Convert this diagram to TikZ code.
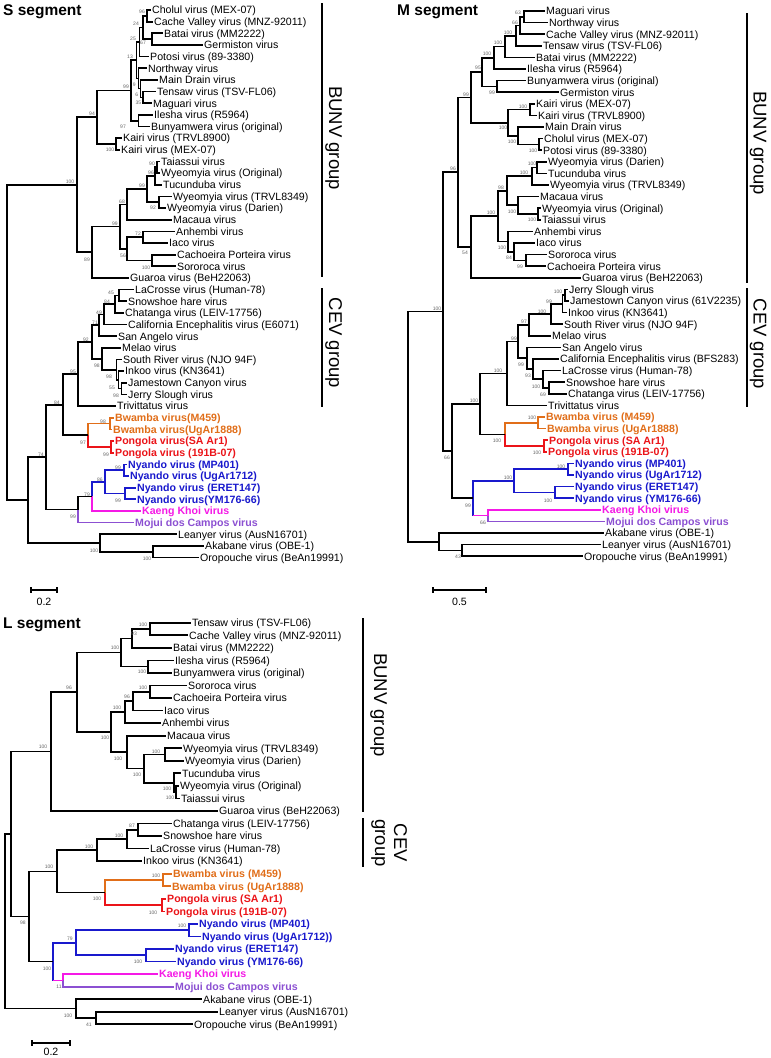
\documentclass[tikz,border=0pt]{standalone}
\usepackage{fontspec}
\setmainfont{Liberation Sans}
\usetikzlibrary{calc}
\definecolor{bworange}{RGB}{225,110,25}
\definecolor{pgred}{RGB}{235,20,25}
\definecolor{nyblue}{RGB}{25,25,205}
\definecolor{kkmag}{RGB}{245,25,230}
\definecolor{mjpurple}{RGB}{140,80,210}
\tikzset{
  leaf/.style={anchor=west,inner sep=0pt,inner xsep=1.5pt,text height=7.6pt,text depth=0pt,font=\fontsize{10.6}{12}\selectfont},
  bleaf/.style={font=\fontsize{10.6}{12}\selectfont\bfseries},
  bs/.style={inner sep=0pt,font=\fontsize{5}{6}\selectfont,text=black!60},
  brn/.style={line width=1.7pt},
  brk/.style={line width=1.2pt},
  ttl/.style={anchor=west,inner sep=0pt,text height=11pt,text depth=0pt,font=\fontsize{15.5}{18}\selectfont\bfseries},
  grp/.style={inner sep=0pt,rotate=-90,anchor=south,align=center,font=\fontsize{18.5}{19}\selectfont},
  sclab/.style={inner sep=0pt,font=\fontsize{10.6}{12}\selectfont}
}
\newcommand\lf[5][]{\node[leaf,#1] (#2) at (#3,{#4}) {#5};}
\newcommand\inode[4]{\path let \p1=(#3), \p2=(#4) in coordinate (#1) at (#2pt,{0.5*\y1+0.5*\y2});}
\newcommand\nd[5][black]{\inode{#2}{#3}{#4}{#5}\draw[brn,#1] (#2) |- (#4) (#2) |- (#5);}
\newcommand\bv[4]{\node[bs] (#1) at (#2,#3) {#4};}
\def\Sy#1{10+11.65*(#1)}
\def\My#1{11+11.6*(#1)}
\def\Ly#1{622.7+12.55*(#1)}
\begin{document}
\begin{tikzpicture}[x=1pt,y=-1pt]
\fill[white] (0,0) rectangle (771,1058);
\useasboundingbox (0,0) rectangle (771,1058);
% ================= S segment =================
\node[ttl] (tS) at (3,10) {S segment};
\lf{S0}{150.5}{\Sy{0}}{Cholul virus (MEX-07)}
\lf{S1}{152.5}{\Sy{1}}{Cache Valley virus (MNZ-92011)}
\lf{S2}{162.5}{\Sy{2}}{Batai virus (MM2222)}
\lf{S3}{202.5}{\Sy{3}}{Germiston virus}
\lf{S4}{148.5}{\Sy{4}}{Potosi virus (89-3380)}
\lf{S5}{146.5}{\Sy{5}}{Northway virus}
\lf{S6}{157.5}{\Sy{6}}{Main Drain virus}
\lf{S7}{155.5}{\Sy{7}}{Tensaw virus (TSV-FL06)}
\lf{S8}{151.5}{\Sy{8}}{Maguari virus}
\lf{S9}{152.5}{\Sy{9}}{Ilesha virus (R5964)}
\lf{S10}{149.5}{\Sy{10}}{Bunyamwera virus (original)}
\lf{S11}{121.5}{\Sy{11}}{Kairi virus (TRVL8900)}
\lf{S12}{119.5}{\Sy{12}}{Kairi virus (MEX-07)}
\lf{S13}{159.5}{\Sy{13}}{Taiassui virus}
\lf{S14}{159.5}{\Sy{14}}{Wyeomyia virus (Original)}
\lf{S15}{161.5}{\Sy{15}}{Tucunduba virus}
\lf{S16}{171.5}{\Sy{16}}{Wyeomyia virus (TRVL8349)}
\lf{S17}{165.5}{\Sy{17}}{Wyeomyia virus (Darien)}
\lf{S18}{171.5}{\Sy{18}}{Macaua virus}
\lf{S19}{174.5}{\Sy{19}}{Anhembi virus}
\lf{S20}{167.5}{\Sy{20}}{Iaco virus}
\lf{S21}{175.5}{\Sy{21}}{Cachoeira Porteira virus}
\lf{S22}{175.5}{\Sy{22}}{Sororoca virus}
\lf{S23}{128.5}{\Sy{23}}{Guaroa virus (BeH22063)}
\lf{S24}{133.5}{\Sy{24}}{LaCrosse virus (Human-78)}
\lf{S25}{126.5}{\Sy{25}}{Snowshoe hare virus}
\lf{S26}{123.5}{\Sy{26}}{Chatanga virus (LEIV-17756)}
\lf{S27}{126.5}{\Sy{27}}{California Encephalitis virus (E6071)}
\lf{S28}{116.5}{\Sy{28}}{San Angelo virus}
\lf{S29}{120.5}{\Sy{29}}{Melao virus}
\lf{S30}{121.5}{\Sy{30}}{South River virus (NJO 94F)}
\lf{S31}{123.5}{\Sy{31}}{Inkoo virus (KN3641)}
\lf{S32}{126.5}{\Sy{32}}{Jamestown Canyon virus}
\lf{S33}{126.5}{\Sy{33}}{Jerry Slough virus}
\lf{S34}{115.5}{\Sy{34}}{Trivittatus virus}
\lf[bleaf,text=bworange]{S35}{113.5}{\Sy{35}}{Bwamba virus(M459)}
\lf[bleaf,text=bworange]{S36}{111.5}{\Sy{36}}{Bwamba virus(UgAr1888)}
\lf[bleaf,text=pgred]{S37}{113.5}{\Sy{37}}{Pongola virus(SA Ar1)}
\lf[bleaf,text=pgred]{S38}{113.5}{\Sy{38}}{Pongola virus (191B-07)}
\lf[bleaf,text=nyblue]{S39}{126.5}{\Sy{39}}{Nyando virus (MP401)}
\lf[bleaf,text=nyblue]{S40}{128.5}{\Sy{40}}{Nyando virus (UgAr1712)}
\lf[bleaf,text=nyblue]{S41}{135.5}{\Sy{41}}{Nyando virus (ERET147)}
\lf[bleaf,text=nyblue]{S42}{135.5}{\Sy{42}}{Nyando virus(YM176-66)}
\lf[bleaf,text=kkmag]{S43}{140.5}{\Sy{43}}{Kaeng Khoi virus}
\lf[bleaf,text=mjpurple]{S44}{133.5}{\Sy{44}}{Mojui dos Campos virus}
\lf{S45}{176.5}{\Sy{45}}{Leanyer virus (AusN16701)}
\lf{S46}{203.5}{\Sy{46}}{Akabane virus (OBE-1)}
\lf{S47}{198.5}{\Sy{47}}{Oropouche virus (BeAn19991)}
\nd{sA}{147}{S0.west}{S1.west}
\nd{sB}{152}{S2.west}{S3.west}
\nd{sC}{143}{sA}{sB}
\nd{sD}{139.5}{sC}{S4.west}
\nd{sH}{143}{S7.west}{S8.west}
\nd{sG}{140.5}{S6.west}{sH}
\nd{sF}{138.5}{S5.west}{sG}
\nd{sE}{136.5}{sD}{sF}
\nd{sI}{138.5}{S9.west}{S10.west}
\nd{sJ}{131}{sE}{sI}
\nd{sK}{116}{S11.west}{S12.west}
\nd{sL}{97}{sJ}{sK}
\nd{sP}{157}{S13.west}{S14.west}
\nd{sQ}{155}{sP}{S15.west}
\nd{sR}{159}{S16.west}{S17.west}
\nd{sS}{147}{sQ}{sR}
\nd{sT}{127}{sS}{S18.west}
\nd{sU}{143}{S19.west}{S20.west}
\nd{sV}{152}{S21.west}{S22.west}
\nd{sW}{127}{sU}{sV}
\nd{sX}{120}{sT}{sW}
\nd{sY}{92}{sX}{S23.west}
\nd{sM}{77}{sL}{sY}
\nd{sa1}{119}{S24.west}{S25.west}
\nd{sa2}{115}{sa1}{S26.west}
\nd{sa3}{104}{sa2}{S27.west}
\nd{sa4}{99}{sa3}{S28.west}
\nd{sb1}{121.5}{S32.west}{S33.west}
\nd{sb2}{118.5}{S31.west}{sb1}
\nd{sb3}{116.5}{S30.west}{sb2}
\nd{sb4}{102}{S29.west}{sb3}
\nd{sc1}{92}{sa4}{sb4}
\nd{sc2}{78}{sc1}{S34.west}
\nd[bworange]{sd1}{110}{S35.west}{S36.west}
\nd[pgred]{sd2}{111}{S37.west}{S38.west}
\inode{sd3}{88}{sd1}{sd2}
\draw[brn,bworange] (sd3) |- (sd1);
\draw[brn,pgred] (sd3) |- (sd2);
\nd{sd4}{63}{sc2}{sd3}
\nd[nyblue]{se1}{124}{S39.west}{S40.west}
\nd[nyblue]{se2}{125}{S41.west}{S42.west}
\nd[nyblue]{se3}{105}{se1}{se2}
\inode{se4}{92}{se3}{S43.west}
\draw[brn,nyblue] (se4) |- (se3);
\draw[brn,kkmag] (se4) |- (S43.west);
\inode{se5}{78}{se4}{S44.west}
\draw[brn] (se5) |- (se4);
\draw[brn,mjpurple] (se5) |- (S44.west);
\nd{sf1}{46}{sd4}{se5}
\nd{sg1}{153}{S46.west}{S47.west}
\nd{sg2}{100}{S45.west}{sg1}
\nd{sg3}{28}{sf1}{sg2}
\nd{sR0}{7}{sM}{sg3}
% S bootstrap
\bv{bSA}{142}{12}{96}
\bv{bSC}{136}{24}{24}
\bv{bSB}{143}{43}{67}
\bv{bSD}{133}{39}{25}
\bv{bSE}{130}{57}{13}
\bv{bSF}{134.3}{85}{9}
\bv{bSG}{136.7}{95}{6}
\bv{bSH}{138.3}{103}{35}
\bv{bSJ}{126}{87}{99}
\bv{bSI}{123}{127}{97}
\bv{bSK}{110}{150}{100}
\bv{bSL}{92}{114}{94}
\bv{bSM}{70}{182}{100}
\bv{bSP}{152}{164}{90}
\bv{bSQ}{151}{173}{96}
\bv{bSR}{153}{208}{92}
\bv{bSS}{142}{186}{99}
\bv{bST}{122}{202}{68}
\bv{bSU}{138}{234}{72}
\bv{bSV}{146}{268}{100}
\bv{bSW}{123}{256}{56}
\bv{bSX}{115}{224}{99}
\bv{bSY}{87}{260}{89}
\bv{bSa1}{111}{293}{45}
\bv{bSa2}{107}{302}{84}
\bv{bSa3}{99}{313}{49}
\bv{bSa4}{95}{323}{71}
\bv{bSb4}{97}{366}{98}
\bv{bSb3}{109}{377}{98}
\bv{bSb2}{112}{388}{55}
\bv{bSb1}{116}{396}{98}
\bv{bSc1}{86}{340}{92}
\bv{bSc2}{73}{372}{95}
\bv{bSd1}{103}{422}{98}
\bv{bSd2}{106}{455}{99}
\bv{bSd3}{83}{443}{97}
\bv{bSd4}{57}{403}{84}
\bv{bSe1}{118}{468}{99}
\bv{bSe2}{118}{501}{99}
\bv{bSe3}{100}{480}{86}
\bv{bSe4}{87}{495}{79}
\bv{bSe5}{73}{517}{99}
\bv{bSf1}{41}{455}{74}
\bv{bSg1}{147}{559}{100}
\bv{bSg2}{94}{551}{100}
% S groups
\draw[brk] (322,3) -- (322,277);
\draw[brk] (322,288) -- (322,407);
\node[grp] (gSB) at (325,138) {BUNV group};
\node[grp] (gSC) at (325,343) {CEV group};
% S scale
\draw[brn] (31,587) -- (31,593) (31,590) -- (57,590) (57,587) -- (57,593);
\node[sclab] (scS) at (44,602) {0.2};
% ================= M segment =================
\node[ttl] (tM) at (397,10) {M segment};
\lf{M0}{544.5}{\My{0}}{Maguari virus}
\lf{M1}{547.5}{\My{1}}{Northway virus}
\lf{M2}{544.5}{\My{2}}{Cache Valley virus (MNZ-92011)}
\lf{M3}{541.5}{\My{3}}{Tensaw virus (TSV-FL06)}
\lf{M4}{534.5}{\My{4}}{Batai virus (MM2222)}
\lf{M5}{525.5}{\My{5}}{Ilesha virus (R5964)}
\lf{M6}{525.5}{\My{6}}{Bunyamwera virus (original)}
\lf{M7}{558.5}{\My{7}}{Germiston virus}
\lf{M8}{534.5}{\My{8}}{Kairi virus (MEX-07)}
\lf{M9}{536.5}{\My{9}}{Kairi virus (TRVL8900)}
\lf{M10}{543.5}{\My{10}}{Main Drain virus}
\lf{M11}{542.5}{\My{11}}{Cholul virus (MEX-07)}
\lf{M12}{541.5}{\My{12}}{Potosi virus (89-3380)}
\lf{M13}{546.5}{\My{13}}{Wyeomyia virus (Darien)}
\lf{M14}{546.5}{\My{14}}{Tucunduba virus}
\lf{M15}{548.5}{\My{15}}{Wyeomyia virus (TRVL8349)}
\lf{M16}{538.5}{\My{16}}{Macaua virus}
\lf{M17}{540.5}{\My{17}}{Wyeomyia virus (Original)}
\lf{M18}{540.5}{\My{18}}{Taiassui virus}
\lf{M19}{532.5}{\My{19}}{Anhembi virus}
\lf{M20}{534.5}{\My{20}}{Iaco virus}
\lf{M21}{546.5}{\My{21}}{Sororoca virus}
\lf{M22}{545.5}{\My{22}}{Cachoeira Porteira virus}
\lf{M23}{580.5}{\My{23}}{Guaroa virus (BeH22063)}
\lf{M24}{567.5}{\My{24}}{Jerry Slough virus}
\lf{M25}{568.5}{\My{25}}{Jamestown Canyon virus (61V2235)}
\lf{M26}{566.5}{\My{26}}{Inkoo virus (KN3641)}
\lf{M27}{562.5}{\My{27}}{South River virus (NJO 94F)}
\lf{M28}{550.5}{\My{28}}{Melao virus}
\lf{M29}{560.5}{\My{29}}{San Angelo virus}
\lf{M30}{558.5}{\My{30}}{California Encephalitis virus (BFS283)}
\lf{M31}{560.5}{\My{31}}{LaCrosse virus (Human-78)}
\lf{M32}{564.5}{\My{32}}{Snowshoe hare virus}
\lf{M33}{566.5}{\My{33}}{Chatanga virus (LEIV-17756)}
\lf{M34}{546.5}{\My{34}}{Trivittatus virus}
\lf[bleaf,text=bworange]{M35}{544.5}{\My{35}}{Bwamba virus (M459)}
\lf[bleaf,text=bworange]{M36}{545.5}{\My{36}}{Bwamba virus (UgAr1888)}
\lf[bleaf,text=pgred]{M37}{547.5}{\My{37}}{Pongola virus (SA Ar1)}
\lf[bleaf,text=pgred]{M38}{546.5}{\My{38}}{Pongola virus (191B-07)}
\lf[bleaf,text=nyblue]{M39}{573.5}{\My{39}}{Nyando virus (MP401)}
\lf[bleaf,text=nyblue]{M40}{573.5}{\My{40}}{Nyando virus (UgAr1712)}
\lf[bleaf,text=nyblue]{M41}{573.5}{\My{41}}{Nyando virus (ERET147)}
\lf[bleaf,text=nyblue]{M42}{573.5}{\My{42}}{Nyando virus (YM176-66)}
\lf[bleaf,text=kkmag]{M43}{600.5}{\My{43}}{Kaeng Khoi virus}
\lf[bleaf,text=mjpurple]{M44}{604.5}{\My{44}}{Mojui dos Campos virus}
\lf{M45}{603.5}{\My{45}}{Akabane virus (OBE-1)}
\lf{M46}{600.5}{\My{46}}{Leanyer virus (AusN16701)}
\lf{M47}{582.5}{\My{47}}{Oropouche virus (BeAn19991)}
\nd{mm1}{524}{M0.west}{M1.west}
\nd{mm2}{520}{mm1}{M2.west}
\nd{mm3}{516}{mm2}{M3.west}
\nd{mm4}{505}{mm3}{M4.west}
\nd{mm5}{494}{mm4}{M5.west}
\nd{mm6}{497}{M6.west}{M7.west}
\nd{mm7}{482}{mm5}{mm6}
\nd{mk1}{530}{M8.west}{M9.west}
\nd{mk2}{539}{M11.west}{M12.west}
\nd{mk3}{518}{M10.west}{mk2}
\nd{mk4}{508}{mk1}{mk3}
\nd{mb1}{471}{mm7}{mk4}
\nd{mw1}{537}{M13.west}{M14.west}
\nd{mw2}{532}{mw1}{M15.west}
\nd{mw3}{538}{M17.west}{M18.west}
\nd{mw4}{518}{M16.west}{mw3}
\nd{mw5}{507}{mw2}{mw4}
\nd{ma1}{526}{M21.west}{M22.west}
\nd{ma2}{514}{M20.west}{ma1}
\nd{ma3}{508}{M19.west}{ma2}
\nd{ma4}{498}{mw5}{ma3}
\nd{mg}{471}{ma4}{M23.west}
\nd{mh}{458}{mb1}{mg}
\nd{mc1}{565}{M24.west}{M25.west}
\nd{mc2}{562.5}{mc1}{M26.west}
\nd{mc3}{551}{mc2}{M27.west}
\nd{mc4}{529}{mc3}{M28.west}
\nd{mc5}{549}{M32.west}{M33.west}
\nd{mc6}{543}{M31.west}{mc5}
\nd{mc7}{533}{M30.west}{mc6}
\nd{mc8}{527}{M29.west}{mc7}
\nd{mc9}{518}{mc4}{mc8}
\nd{mc10}{507}{mc9}{M34.west}
\nd[bworange]{mbw}{538}{M35.west}{M36.west}
\nd[pgred]{mpg}{544}{M37.west}{M38.west}
\inode{mbp}{505}{mbw}{mpg}
\draw[brn,bworange] (mbp) |- (mbw);
\draw[brn,pgred] (mbp) |- (mpg);
\nd{mp1}{480}{mc10}{mbp}
\nd[nyblue]{mn1}{568}{M39.west}{M40.west}
\nd[nyblue]{mn2}{555}{M41.west}{M42.west}
\nd[nyblue]{mn3}{514}{mn1}{mn2}
\inode{mn5}{488}{M43.west}{M44.west}
\draw[brn,kkmag] (mn5) |- (M43.west);
\draw[brn,mjpurple] (mn5) |- (M44.west);
\inode{mn4}{473}{mn3}{mn5}
\draw[brn,nyblue] (mn4) |- (mn3);
\draw[brn,nyblue,line cap=rect] (mn4) -- (mn4 |- mn5);
\draw[brn,kkmag] (mn4 |- mn5) -- (mn5);
\nd{mp2}{452}{mp1}{mn4}
\nd{mh2}{443}{mh}{mp2}
\nd{mo1}{462}{M46.west}{M47.west}
\nd{mo2}{439}{M45.west}{mo1}
\nd{mroot}{408}{mh2}{mo2}
% M bootstrap
\bv{bMm1}{518}{13}{63}
\bv{bMm2}{515}{23}{66}
\bv{bMm3}{508}{33}{100}
\bv{bMm4}{498}{43}{100}
\bv{bMm5}{487}{54}{100}
\bv{bMm6}{492}{93}{99}
\bv{bMm7}{478}{68}{95}
\bv{bMk1}{523}{107}{100}
\bv{bMk2}{533}{151}{100}
\bv{bMk3}{512}{142}{100}
\bv{bMk4}{503}{128}{100}
\bv{bMb1}{466}{95}{99}
\bv{bMw1}{532}{164}{100}
\bv{bMw2}{524}{173}{100}
\bv{bMw3}{532}{220}{100}
\bv{bMw4}{512}{212}{100}
\bv{bMw5}{501}{188}{98}
\bv{bMa1}{520}{267}{99}
\bv{bMa2}{509}{258}{84}
\bv{bMa3}{502}{248}{100}
\bv{bMa4}{491}{213}{100}
\bv{bMg}{465}{253}{54}
\bv{bMh}{453}{169}{96}
\bv{bMc1}{558}{292}{100}
\bv{bMc2}{549}{302}{99}
\bv{bMc3}{542}{312}{100}
\bv{bMc4}{524}{322}{97}
\bv{bMc5}{543}{395}{69}
\bv{bMc6}{536}{387}{100}
\bv{bMc7}{528}{376}{93}
\bv{bMc8}{521}{365}{99}
\bv{bMc9}{514}{339}{99}
\bv{bMc10}{498}{371}{100}
\bv{bMbw}{532}{418}{100}
\bv{bMpg}{537}{453}{100}
\bv{bMbp}{497}{441}{100}
\bv{bMp1}{474}{401}{100}
\bv{bMn1}{561}{467}{100}
\bv{bMn2}{548}{501}{100}
\bv{bMn3}{508}{478}{100}
\bv{bMn5}{483}{523}{66}
\bv{bMn4}{468}{506}{99}
\bv{bMp2}{447}{458}{66}
\bv{bMh2}{437}{309}{100}
\bv{bMo1}{458}{557}{43}
% M groups
\draw[brk] (747,13) -- (747,283);
\draw[brk] (747,288) -- (747,407);
\node[grp] (gMB) at (749.5,143) {BUNV group};
\node[grp] (gMC) at (749.5,344) {CEV group};
% M scale
\draw[brn] (433,587) -- (433,593) (433,590) -- (486,590) (486,587) -- (486,593);
\node[sclab] (scM) at (459.5,602) {0.5};
% ================= L segment =================
\node[ttl] (tL) at (3,623) {L segment};
\lf{L0}{190.5}{\Ly{0}}{Tensaw virus (TSV-FL06)}
\lf{L1}{187.5}{\Ly{1}}{Cache Valley virus (MNZ-92011)}
\lf{L2}{171.5}{\Ly{2}}{Batai virus (MM2222)}
\lf{L3}{173.5}{\Ly{3}}{Ilesha virus (R5964)}
\lf{L4}{171.5}{\Ly{4}}{Bunyamwera virus (original)}
\lf{L5}{186.5}{\Ly{5}}{Sororoca virus}
\lf{L6}{171.5}{\Ly{6}}{Cachoeira Porteira virus}
\lf{L7}{162.5}{\Ly{7}}{Iaco virus}
\lf{L8}{160.5}{\Ly{8}}{Anhembi virus}
\lf{L9}{165.5}{\Ly{9}}{Macaua virus}
\lf{L10}{181.5}{\Ly{10}}{Wyeomyia virus (TRVL8349)}
\lf{L11}{183.5}{\Ly{11}}{Wyeomyia virus (Darien)}
\lf{L12}{180.5}{\Ly{12}}{Tucunduba virus}
\lf{L13}{178.5}{\Ly{13}}{Wyeomyia virus (Original)}
\lf{L14}{179.5}{\Ly{14}}{Taiassui virus}
\lf{L15}{217.5}{\Ly{15}}{Guaroa virus (BeH22063)}
\lf{L16}{171.5}{\Ly{16}}{Chatanga virus (LEIV-17756)}
\lf{L17}{161.5}{\Ly{17}}{Snowshoe hare virus}
\lf{L18}{148.5}{\Ly{18}}{LaCrosse virus (Human-78)}
\lf{L19}{141.5}{\Ly{19}}{Inkoo virus (KN3641)}
\lf[bleaf,text=bworange]{L20}{171.5}{\Ly{20}}{Bwamba virus (M459)}
\lf[bleaf,text=bworange]{L21}{170.5}{\Ly{21}}{Bwamba virus (UgAr1888)}
\lf[bleaf,text=pgred]{L22}{165.5}{\Ly{22}}{Pongola virus (SA Ar1)}
\lf[bleaf,text=pgred]{L23}{164.5}{\Ly{23}}{Pongola virus (191B-07)}
\lf[bleaf,text=nyblue]{L24}{197.5}{\Ly{24}}{Nyando virus (MP401)}
\lf[bleaf,text=nyblue]{L25}{200.5}{\Ly{25}}{Nyando virus (UgAr1712))}
\lf[bleaf,text=nyblue]{L26}{173.5}{\Ly{26}}{Nyando virus (ERET147)}
\lf[bleaf,text=nyblue]{L27}{175.5}{\Ly{27}}{Nyando virus (YM176-66)}
\lf[bleaf,text=kkmag]{L28}{157.5}{\Ly{28}}{Kaeng Khoi virus}
\lf[bleaf,text=mjpurple]{L29}{173.5}{\Ly{29}}{Mojui dos Campos virus}
\lf{L30}{201.5}{\Ly{30}}{Akabane virus (OBE-1)}
\lf{L31}{217.5}{\Ly{31}}{Leanyer virus (AusN16701)}
\lf{L32}{192.5}{\Ly{32}}{Oropouche virus (BeAn19991)}
\nd{ll1}{150}{L0.west}{L1.west}
\nd{ll2}{132}{ll1}{L2.west}
\nd{ll3}{148}{L3.west}{L4.west}
\nd{ll4}{121}{ll2}{ll3}
\nd{ls1}{150}{L5.west}{L6.west}
\nd{ls2}{133}{ls1}{L7.west}
\nd{ls3}{125}{ls2}{L8.west}
\nd{lw1}{165}{L10.west}{L11.west}
\nd{lw3}{176}{L13.west}{L14.west}
\nd{lw2}{174}{L12.west}{lw3}
\nd{lw4}{144}{lw1}{lw2}
\nd{lw5}{127}{L9.west}{lw4}
\nd{lw6}{111}{ls3}{lw5}
\nd{ll5}{77}{ll4}{lw6}
\nd{ll6}{51}{ll5}{L15.west}
\nd{lc1}{138}{L16.west}{L17.west}
\nd{lc2}{127}{lc1}{L18.west}
\nd{lc3}{97}{lc2}{L19.west}
\nd[bworange]{lbw}{163}{L20.west}{L21.west}
\nd[pgred]{lpg}{162}{L22.west}{L23.west}
\inode{lbp}{105}{lbw}{lpg}
\draw[brn,bworange] (lbp) |- (lbw);
\draw[brn,pgred] (lbp) |- (lpg);
\nd{lc4}{57}{lc3}{lbp}
\nd[nyblue]{ln1}{189}{L24.west}{L25.west}
\nd[nyblue]{ln2}{146}{L26.west}{L27.west}
\nd[nyblue]{ln3}{76}{ln1}{ln2}
\inode{lkk}{63}{L28.west}{L29.west}
\draw[brn,kkmag] (lkk) |- (L28.west);
\draw[brn,mjpurple] (lkk) |- (L29.west);
\inode{ln4}{53}{ln3}{lkk}
\draw[brn,nyblue] (ln4) |- (ln3);
\draw[brn,nyblue,line cap=rect] (ln4) -- (ln4 |- lkk);
\draw[brn,kkmag] (ln4 |- lkk) -- (lkk);
\nd{lr1}{29}{lc4}{ln4}
\nd{lr0}{11}{ll6}{lr1}
\nd{lo1}{96}{L31.west}{L32.west}
\nd{lo2}{76}{L30.west}{lo1}
\nd{lroot}{5}{lr0}{lo2}
% L bootstrap
\bv{bLl1}{143}{625}{100}
\bv{bLl2}{134}{634}{93}
\bv{bLl3}{142}{672}{100}
\bv{bLl4}{115}{648}{100}
\bv{bLs1}{143}{688}{100}
\bv{bLs2}{127}{697}{96}
\bv{bLs3}{117}{708}{100}
\bv{bLw1}{156}{752}{100}
\bv{bLw2}{167}{789}{100}
\bv{bLw3}{170}{798}{100}
\bv{bLw4}{137}{775}{100}
\bv{bLw5}{118}{759}{100}
\bv{bLw6}{105}{738}{100}
\bv{bLl5}{69}{688}{96}
\bv{bLl6}{43}{747}{100}
\bv{bLc1}{132}{826}{87}
\bv{bLc2}{119}{836}{100}
\bv{bLc3}{89}{847}{100}
\bv{bLbw}{156}{876}{100}
\bv{bLpg}{153}{913}{100}
\bv{bLbp}{97}{899}{100}
\bv{bLc4}{49}{867}{100}
\bv{bLn1}{182}{926}{100}
\bv{bLn2}{138}{962}{100}
\bv{bLn3}{70}{939}{79}
\bv{bLkk}{59}{987}{11}
\bv{bLn4}{47}{969}{100}
\bv{bLr1}{23}{923}{98}
\bv{bLo1}{89}{1025}{41}
\bv{bLo2}{68}{1016}{100}
% L groups
\draw[brk] (363,618) -- (363,812);
\draw[brk] (363,818) -- (363,867);
\node[grp] (gLB) at (370,705) {BUNV group};
\node[grp] (gLC) at (371,843) {CEV\\group};
% L scale
\draw[brn] (32,1040) -- (32,1046) (32,1043) -- (70,1043) (70,1040) -- (70,1046);
\node[sclab] (scL) at (51,1052) {0.2};
\end{tikzpicture}
\end{document}
